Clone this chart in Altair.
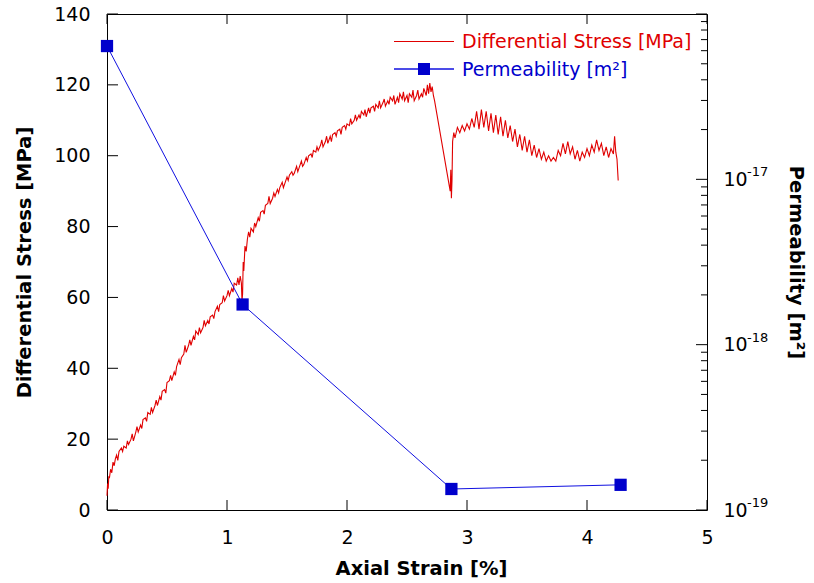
import altair as alt
import pandas as pd

# ---------------- data ----------------
# Differential stress curve: (axial strain [%], differential stress [MPa])
stress_elastic = [
    (0.00, 4.0), (0.005, 7.5), (0.01, 6.0), (0.015, 9.5), (0.02, 9.0), (0.03, 11.5),
    (0.04, 10.5), (0.05, 13.5), (0.06, 12.5), (0.07, 14.5), (0.08, 15.5), (0.09, 14.0),
    (0.10, 16.5), (0.12, 17.5), (0.13, 16.5), (0.14, 18.0), (0.16, 17.5), (0.17, 19.5),
    (0.18, 18.5), (0.20, 20.0), (0.21, 21.5), (0.22, 19.5), (0.24, 22.0), (0.25, 23.5),
    (0.26, 22.0), (0.28, 24.0), (0.29, 23.0), (0.30, 25.5), (0.32, 26.0), (0.33, 25.0),
    (0.34, 27.5), (0.36, 27.0), (0.37, 29.0), (0.38, 27.5), (0.40, 29.5), (0.41, 31.0),
    (0.42, 29.5), (0.44, 32.0), (0.45, 31.0), (0.46, 33.5), (0.48, 34.0), (0.49, 33.0),
    (0.50, 36.0), (0.52, 36.5), (0.53, 38.0), (0.54, 36.5), (0.56, 39.0), (0.57, 38.0),
    (0.58, 40.5), (0.60, 42.5), (0.61, 41.0), (0.62, 43.0), (0.64, 44.0), (0.65, 46.5),
    (0.66, 44.5), (0.68, 46.5), (0.69, 48.0), (0.70, 46.5), (0.72, 49.0), (0.73, 48.0),
    (0.74, 50.5), (0.76, 49.5), (0.77, 51.5), (0.78, 50.0), (0.80, 51.5), (0.81, 53.5),
    (0.82, 52.0), (0.84, 53.5), (0.85, 52.5), (0.86, 54.5), (0.88, 55.0), (0.89, 54.0),
    (0.90, 56.0), (0.92, 57.5), (0.93, 56.0), (0.94, 58.0), (0.96, 58.5), (0.97, 60.5),
    (0.98, 59.0), (1.00, 60.5), (1.01, 62.0), (1.02, 60.5), (1.04, 62.5), (1.05, 61.5),
    (1.06, 64.0), (1.08, 63.5), (1.09, 65.5), (1.10, 63.5), (1.11, 66.0), (1.12, 64.0),
]
stress_hardening = [
    (1.125, 59.0), (1.13, 61.0), (1.135, 70.0), (1.14, 67.5), (1.15, 74.5), (1.16, 73.0),
    (1.17, 76.5), (1.18, 78.5), (1.19, 77.0), (1.20, 79.5), (1.22, 78.5), (1.23, 81.0),
    (1.24, 80.0), (1.26, 82.5), (1.27, 81.5), (1.28, 84.0), (1.30, 84.5), (1.31, 83.5),
    (1.32, 86.0), (1.34, 86.5), (1.35, 88.5), (1.36, 86.5), (1.38, 88.0), (1.39, 89.5),
    (1.40, 88.5), (1.42, 90.5), (1.43, 89.5), (1.44, 91.0), (1.46, 92.5), (1.47, 91.0),
    (1.48, 92.0), (1.50, 94.0), (1.51, 93.0), (1.52, 94.5), (1.54, 95.5), (1.55, 94.5),
    (1.56, 95.0), (1.58, 97.0), (1.59, 95.5), (1.60, 96.5), (1.62, 98.5), (1.63, 97.0),
    (1.64, 97.5), (1.66, 99.5), (1.67, 98.5), (1.68, 100.0), (1.70, 100.5), (1.71, 99.5),
    (1.72, 101.5), (1.74, 101.0), (1.75, 102.5), (1.76, 101.5), (1.78, 103.0), (1.79, 104.5),
    (1.80, 102.5), (1.82, 104.0), (1.83, 105.5), (1.84, 103.5), (1.86, 105.5), (1.87, 104.0),
    (1.88, 106.0), (1.90, 106.5), (1.91, 105.5), (1.92, 107.0), (1.94, 107.5), (1.95, 106.0),
    (1.96, 108.0), (1.98, 108.5), (1.99, 107.5), (2.00, 109.0), (2.02, 108.5), (2.03, 110.5),
    (2.04, 109.0), (2.06, 110.0), (2.07, 111.5), (2.08, 110.0), (2.10, 111.5), (2.11, 110.5),
    (2.12, 112.5), (2.14, 111.5), (2.15, 113.0), (2.16, 111.0), (2.18, 113.5), (2.19, 112.0),
    (2.20, 113.5), (2.22, 114.0), (2.23, 112.5), (2.24, 114.5), (2.26, 113.5), (2.27, 115.5),
    (2.28, 113.5), (2.30, 115.0), (2.31, 116.0), (2.32, 114.0), (2.34, 115.5), (2.35, 114.5),
    (2.36, 116.5), (2.38, 115.5), (2.39, 117.0), (2.40, 114.5), (2.42, 116.5), (2.43, 115.0),
    (2.44, 117.5), (2.46, 116.0), (2.47, 118.0), (2.48, 115.5), (2.50, 117.0), (2.51, 115.0),
    (2.52, 117.5), (2.54, 116.5), (2.55, 118.5), (2.56, 115.5), (2.58, 117.0), (2.59, 118.5),
    (2.60, 116.0), (2.62, 117.5), (2.63, 116.5), (2.64, 119.0), (2.66, 117.0), (2.67, 120.0),
    (2.68, 117.5), (2.69, 120.5), (2.70, 118.0), (2.71, 119.5), (2.72, 117.0), (2.73, 115.5),
]
stress_post_peak = [
    (2.86, 90.0), (2.865, 96.0), (2.87, 88.0), (2.875, 93.0), (2.88, 104.0), (2.89, 106.5),
    (2.90, 105.0), (2.92, 108.0), (2.94, 106.5), (2.96, 108.5), (2.98, 107.0), (3.00, 109.0),
    (3.02, 107.5), (3.04, 110.5), (3.06, 108.0), (3.08, 112.5), (3.10, 107.5), (3.12, 113.0),
    (3.14, 108.0), (3.16, 112.5), (3.18, 107.0), (3.20, 112.0), (3.22, 106.5), (3.24, 111.5),
    (3.26, 106.0), (3.28, 111.0), (3.30, 105.5), (3.32, 110.0), (3.34, 105.0), (3.36, 108.5),
    (3.38, 104.0), (3.40, 107.5), (3.42, 102.5), (3.44, 106.0), (3.46, 101.5), (3.48, 105.5),
    (3.50, 101.0), (3.52, 104.5), (3.54, 100.0), (3.56, 103.0), (3.58, 99.5), (3.60, 102.0),
    (3.62, 99.0), (3.64, 101.0), (3.66, 98.5), (3.68, 100.0), (3.70, 98.5), (3.72, 99.5),
    (3.74, 98.5), (3.76, 101.5), (3.78, 100.0), (3.80, 103.5), (3.82, 100.5), (3.84, 104.0),
    (3.86, 100.5), (3.88, 102.5), (3.90, 99.0), (3.92, 101.5), (3.94, 98.5), (3.96, 101.0),
    (3.98, 99.5), (4.00, 102.0), (4.02, 100.0), (4.04, 103.0), (4.06, 101.0), (4.08, 104.5),
    (4.10, 101.5), (4.12, 103.5), (4.14, 100.0), (4.16, 102.5), (4.18, 99.5), (4.20, 102.0),
    (4.22, 100.5), (4.23, 105.5), (4.24, 101.0), (4.25, 99.0), (4.26, 93.0),
]

# Permeability measurements
perm_strain = [0.0, 1.13, 2.87, 4.28]
perm_value = [6.4e-17, 1.75e-18, 1.34e-19, 1.42e-19]

# Axis ticks
x_ticks = [0, 1, 2, 3, 4, 5]
y_ticks = [0, 20, 40, 60, 80, 100, 120, 140]
perm_major = [1e-19, 1e-18, 1e-17, 1e-16]
perm_labelled = [1e-19, 1e-18, 1e-17]
perm_exponents = ["-19", "-18", "-17"]
perm_minor = [2e-19, 3e-19, 4e-19, 5e-19, 6e-19, 7e-19, 8e-19, 9e-19,
              2e-18, 3e-18, 4e-18, 5e-18, 6e-18, 7e-18, 8e-18, 9e-18,
              2e-17, 3e-17, 4e-17, 5e-17, 6e-17, 7e-17, 8e-17, 9e-17]
legend_labels = ["Differential Stress [MPa]", "Permeability [m²]"]

# ---------------- styling ----------------
W, H = 600, 496
RED = "#e00000"
BLUE_LINE = "#1010e0"
BLUE_MARK = "#0000cc"
FONT = "DejaVu Sans"
LFS = 19
TFS = 19.5

pts = stress_elastic + stress_hardening + stress_post_peak
stress_df = pd.DataFrame({"strain": [p[0] for p in pts],
                          "stress": [p[1] for p in pts],
                          "i": list(range(len(pts)))})
perm_df = pd.DataFrame({"strain": perm_strain, "perm": perm_value})

xs = alt.Scale(domain=[0, 5], nice=False, zero=False)
ys = alt.Scale(domain=[0, 140], nice=False, zero=False)
ps = alt.Scale(type="log", domain=[1e-19, 1e-16], nice=False)

common_axis = dict(grid=False, ticks=False, tickSize=0, domain=False, labelFlush=False,
                   labelOverlap=False,
                   labelFont=FONT, labelFontSize=LFS, labelColor="black",
                   titleFont=FONT, titleFontSize=TFS, titleFontWeight="bold",
                   titleColor="black")

x_axis = alt.Axis(values=x_ticks, title="Axial Strain [%]", labelPadding=18,
                  titleX=314, titleY=64, titleAlign="center",
                  titleBaseline="alphabetic", **common_axis)
y_axis = alt.Axis(values=y_ticks, title="Differential Stress [MPa]", labelPadding=17,
                  titleX=-77, titleY=H / 2, titleAngle=270, titleAlign="center",
                  titleBaseline="alphabetic", **common_axis)
p_axis = alt.Axis(orient="right", values=perm_labelled, labelExpr="'10'",
                  title="Permeability [m²]", labelPadding=16,
                  titleX=82, titleY=H / 2, titleAngle=90, titleAlign="center",
                  titleBaseline="alphabetic", **common_axis)

# ---------------- left group (stress) ----------------
stress_line = alt.Chart(stress_df).mark_line(color=RED, strokeWidth=1.1).encode(
    x=alt.X("strain:Q", scale=xs, axis=x_axis),
    y=alt.Y("stress:Q", scale=ys, axis=y_axis),
    order="i:Q",
)

xt_df = pd.DataFrame({"v": x_ticks})
x_ticks_bottom = alt.Chart(xt_df).mark_rule(color="black", strokeWidth=1).encode(
    x=alt.X("v:Q", scale=xs, axis=x_axis), y=alt.value(H), y2=alt.value(H - 10))
x_ticks_top = alt.Chart(xt_df).mark_rule(color="black", strokeWidth=1).encode(
    x=alt.X("v:Q", scale=xs, axis=x_axis), y=alt.value(0), y2=alt.value(10))
yt_df = pd.DataFrame({"v": y_ticks})
y_ticks_left = alt.Chart(yt_df).mark_rule(color="black", strokeWidth=1).encode(
    y=alt.Y("v:Q", scale=ys, axis=y_axis), x=alt.value(0), x2=alt.value(11))

leg_df = pd.DataFrame({"label": legend_labels})
leg_red_line = alt.Chart(leg_df).mark_rule(color=RED, strokeWidth=1).encode(
    x=alt.value(287), x2=alt.value(347), y=alt.value(27.5))
leg_red_text = alt.Chart(leg_df).transform_filter(
    alt.datum.label == legend_labels[0]).mark_text(
    align="left", baseline="alphabetic", font=FONT, fontSize=LFS, color=RED).encode(
    x=alt.value(355), y=alt.value(34), text="label:N")
leg_blue_line = alt.Chart(leg_df).mark_rule(color=BLUE_LINE, strokeWidth=1).encode(
    x=alt.value(287), x2=alt.value(347), y=alt.value(55))
leg_blue_mark = alt.Chart(leg_df).transform_filter(
    alt.datum.label == legend_labels[1]).mark_point(
    shape="square", filled=True, size=144, color=BLUE_MARK, opacity=1).encode(
    x=alt.value(317), y=alt.value(55))
leg_blue_text = alt.Chart(leg_df).transform_filter(
    alt.datum.label == legend_labels[1]).mark_text(
    align="left", baseline="alphabetic", font=FONT, fontSize=LFS, color=BLUE_MARK).encode(
    x=alt.value(355), y=alt.value(61.5), text="label:N")

left = alt.layer(x_ticks_bottom, x_ticks_top, y_ticks_left, stress_line,
                 leg_red_line, leg_red_text, leg_blue_line, leg_blue_mark, leg_blue_text)

# ---------------- right group (permeability) ----------------
perm_line = alt.Chart(perm_df).mark_line(color=BLUE_LINE, strokeWidth=1).encode(
    x=alt.X("strain:Q", scale=xs, axis=x_axis),
    y=alt.Y("perm:Q", scale=ps, axis=p_axis),
)
perm_pts = alt.Chart(perm_df).mark_point(shape="square", filled=True, size=150,
                                         color=BLUE_MARK, opacity=1).encode(
    x=alt.X("strain:Q", scale=xs, axis=x_axis),
    y=alt.Y("perm:Q", scale=ps, axis=p_axis),
)
pmaj = alt.Chart(pd.DataFrame({"v": perm_major})).mark_rule(color="black", strokeWidth=1).encode(
    y=alt.Y("v:Q", scale=ps, axis=p_axis), x=alt.value(W - 11), x2=alt.value(W))
pmin = alt.Chart(pd.DataFrame({"v": perm_minor})).mark_rule(color="black", strokeWidth=1).encode(
    y=alt.Y("v:Q", scale=ps, axis=p_axis), x=alt.value(W - 6), x2=alt.value(W))
psup = alt.Chart(pd.DataFrame({"v": perm_labelled, "e": perm_exponents})).mark_text(
    align="left", baseline="alphabetic", font=FONT, fontSize=13, color="black", dy=-3).encode(
    y=alt.Y("v:Q", scale=ps, axis=p_axis), x=alt.value(W + 40), text="e:N")

right = alt.layer(pmaj, pmin, perm_line, perm_pts, psup)

chart = alt.layer(left, right).resolve_scale(y="independent").properties(
    width=W, height=H,
    autosize=alt.AutoSizeParams(type="none"),
    padding={"left": 107, "top": 14, "right": 107, "bottom": 73},
    background="white",
).configure_view(stroke="black", strokeWidth=1)

chart.save("out.html", embed_options={"renderer": "svg", "actions": False})
